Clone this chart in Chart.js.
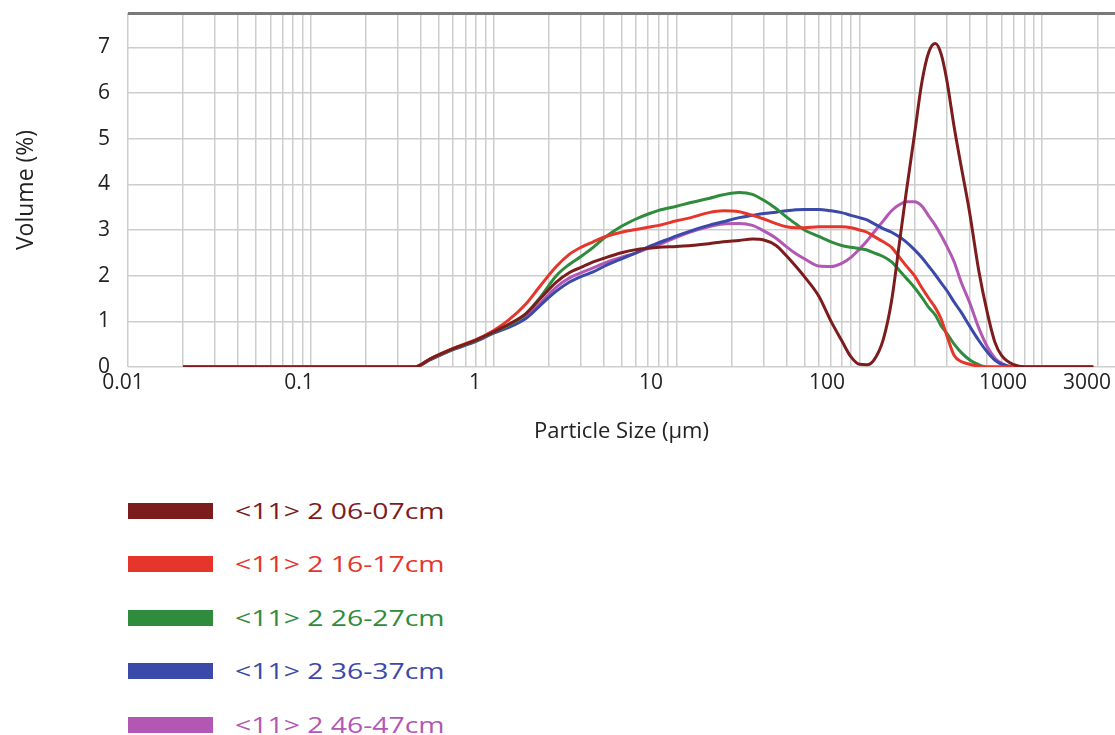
<!DOCTYPE html>
<html>
<head>
<meta charset="utf-8">
<script src="https://cdn.jsdelivr.net/npm/chart.js@4.4.1/dist/chart.umd.min.js"></script>
<style>
    html, body { margin: 0; padding: 0; background: #fff; }
    body { width: 1115px; height: 735px; position: relative; overflow: hidden; font-family: 'Open Sans', sans-serif; }
    #wrap { position: absolute; left: 0; top: 0; width: 1115px; height: 450px; }
    #legend { position: absolute; left: 128px; top: 484px; margin: 0; padding: 0; list-style: none; }
    #legend li { display: flex; align-items: center; height: 53.5px; }
    #legend .box { width: 85px; height: 16px; margin-right: 22px; }
    #legend .txt { display: inline-block; font-size: 21px; transform: scaleX(1.35); transform-origin: left center; }
</style>
</head>
<body>
<div id="wrap"><canvas id="psd"></canvas></div>
<ul id="legend"></ul>
<script>
// particle size classes (µm)
const sizes = [0.02, 0.1, 0.3, 0.37, 0.45, 0.6, 0.8, 1, 1.2, 1.5, 1.8, 2.2, 2.6, 3, 3.5, 4, 5, 6, 7, 8,
    10, 12, 15, 18, 22, 26, 30, 35, 40, 45, 50, 60, 70, 80, 90, 100, 110, 120, 135, 150,
    165, 180, 200, 220, 240, 260, 280, 300, 330, 360, 400, 450, 500, 550, 600, 700, 800, 900, 1000, 1500, 1900];

// volume (%) per sample depth
const vol0607 = [0, 0, 0, 0, 0.18, 0.4, 0.59, 0.77, 0.93, 1.17, 1.5, 1.86, 2.07, 2.18, 2.3, 2.38, 2.5, 2.57, 2.6, 2.62,
    2.64, 2.66, 2.7, 2.74, 2.77, 2.8, 2.78, 2.66, 2.43, 2.2, 1.98, 1.55, 1.0, 0.58, 0.22, 0.06, 0.05, 0.15, 0.6, 1.45,
    2.67, 3.8, 5.08, 6.25, 6.9, 7.08, 6.85, 6.3, 5.25, 4.4, 3.4, 2.1, 1.2, 0.55, 0.25, 0.05, 0, 0, 0, 0, 0];
const vol1617 = [0, 0, 0, 0, 0.18, 0.41, 0.6, 0.8, 1.02, 1.38, 1.78, 2.2, 2.47, 2.62, 2.74, 2.84, 2.95, 3.01, 3.06, 3.1,
    3.2, 3.27, 3.38, 3.42, 3.4, 3.32, 3.24, 3.14, 3.07, 3.05, 3.05, 3.07, 3.07, 3.07, 3.05, 3.0, 2.95, 2.86, 2.74, 2.62,
    2.41, 2.22, 2.0, 1.73, 1.5, 1.3, 1.05, 0.7, 0.25, 0.12, 0.06, 0.02, 0, 0, 0, 0, 0, 0, 0, 0, 0];
const vol2627 = [0, 0, 0, 0, 0.17, 0.39, 0.58, 0.76, 0.91, 1.16, 1.53, 2.0, 2.25, 2.42, 2.62, 2.82, 3.08, 3.24, 3.35, 3.43,
    3.52, 3.6, 3.69, 3.77, 3.82, 3.78, 3.65, 3.47, 3.28, 3.13, 3.0, 2.86, 2.74, 2.66, 2.62, 2.59, 2.56, 2.5, 2.42, 2.3,
    2.12, 1.95, 1.74, 1.52, 1.3, 1.14, 0.9, 0.74, 0.5, 0.32, 0.16, 0.05, 0, 0, 0, 0, 0, 0, 0, 0, 0];
const vol3637 = [0, 0, 0, 0, 0.16, 0.38, 0.56, 0.74, 0.86, 1.06, 1.35, 1.66, 1.86, 1.98, 2.08, 2.2, 2.37, 2.5, 2.63, 2.72,
    2.87, 2.98, 3.1, 3.18, 3.27, 3.32, 3.36, 3.39, 3.42, 3.44, 3.45, 3.45, 3.42, 3.38, 3.32, 3.27, 3.22, 3.14, 3.03, 2.95,
    2.85, 2.74, 2.57, 2.39, 2.2, 2.02, 1.84, 1.68, 1.42, 1.2, 0.9, 0.58, 0.33, 0.15, 0.06, 0, 0, 0, 0, 0, 0];
const vol4647 = [0, 0, 0, 0, 0.16, 0.39, 0.57, 0.75, 0.88, 1.1, 1.4, 1.75, 1.95, 2.06, 2.17, 2.27, 2.4, 2.5, 2.6, 2.68,
    2.84, 2.96, 3.07, 3.13, 3.14, 3.1, 2.98, 2.82, 2.63, 2.48, 2.37, 2.21, 2.2, 2.27, 2.4, 2.58, 2.76, 2.95, 3.2, 3.42,
    3.55, 3.62, 3.62, 3.52, 3.3, 3.1, 2.88, 2.65, 2.3, 1.86, 1.42, 0.85, 0.45, 0.2, 0.08, 0, 0, 0, 0, 0, 0];

const seriesLabels = ['<11> 2 06-07cm', '<11> 2 16-17cm', '<11> 2 26-27cm', '<11> 2 36-37cm', '<11> 2 46-47cm'];
const seriesColors = ['#7c1c1c', '#e6352b', '#2f8c3c', '#3b4aa8', '#b257b4'];

const xTickLabels = [0.01, 0.1, 1, 10, 100, 1000, 3000];
const yTickValues = [0, 1, 2, 3, 4, 5, 6, 7];
const Y_MAX = 7.75;

// minor log grid: 1..9 x 10^n
const gridValues = [];
[0.01, 0.1, 1, 10, 100, 1000].forEach(dec => {
    for (let m = 1; m <= 9; m++) {
        const v = +(dec * m).toPrecision(3);
        if (v <= 2000) gridValues.push(v);
    }
});

const allSeries = [vol0607, vol1617, vol2627, vol3637, vol4647];

const htmlLegend = {
    id: 'htmlLegend',
    afterUpdate(chart) {
        const ul = document.getElementById('legend');
        ul.innerHTML = '';
        chart.data.datasets.forEach(ds => {
            const li = document.createElement('li');
            li.innerHTML = `<span class="box" style="background:${ds.borderColor}"></span>` +
                `<span class="txt" style="color:${ds.borderColor}"></span>`;
            li.querySelector('.txt').textContent = ds.label;
            ul.appendChild(li);
        });
    }
};

const tickFont = { family: "'Open Sans', sans-serif", size: 21 };

function noPadding(scale) {
    scale.paddingTop = 0;
    scale.paddingBottom = 0;
    scale.paddingLeft = 0;
    scale.paddingRight = 0;
}

new Chart(document.getElementById('psd'), {
    type: 'line',
    data: {
        datasets: allSeries.map((vals, i) => ({
            label: seriesLabels[i],
            data: sizes.map((s, j) => ({ x: s, y: vals[j] })),
            borderColor: seriesColors[i],
            backgroundColor: seriesColors[i],
            borderWidth: 3,
            pointRadius: 0,
            cubicInterpolationMode: 'monotone',
            fill: false,
            xAxisID: 'x'
        }))
    },
    options: {
        responsive: true,
        maintainAspectRatio: false,
        animation: false,
        layout: { padding: { top: 13, left: 0, right: 0, bottom: 0 } },
        plugins: {
            legend: { display: false },
            tooltip: { enabled: false }
        },
        scales: {
            x: {
                type: 'logarithmic',
                position: 'bottom',
                min: 0.01,
                max: 2500,
                afterBuildTicks: scale => { scale.ticks = gridValues.map(v => ({ value: v })); },
                afterFit: scale => { scale.height = 0; noPadding(scale); },
                ticks: { display: false, autoSkip: false },
                grid: { color: '#cdcdcd', lineWidth: 1.5, drawTicks: false },
                border: { display: false }
            },
            x2: {
                type: 'logarithmic',
                position: 'bottom',
                min: 0.01,
                max: 4055,
                afterBuildTicks: scale => { scale.ticks = xTickLabels.map(v => ({ value: v })); },
                afterFit: scale => { scale.height = 83; noPadding(scale); },
                ticks: {
                    autoSkip: false,
                    maxRotation: 0,
                    padding: 3,
                    labelOffset: -5,
                    color: '#222',
                    font: tickFont,
                    callback: v => String(v)
                },
                grid: { display: false, drawTicks: false },
                border: { display: false },
                title: {
                    display: true,
                    text: 'Particle Size (µm)',
                    color: '#222',
                    font: { family: "'Open Sans', sans-serif", size: 22 },
                    padding: { top: 0, bottom: 5 }
                }
            },
            y: {
                min: 0,
                max: Y_MAX,
                afterBuildTicks: scale => { scale.ticks = yTickValues.concat([Y_MAX]).map(v => ({ value: v })); },
                afterFit: scale => { scale.width = 128; noPadding(scale); },
                ticks: {
                    padding: 18,
                    color: '#222',
                    font: tickFont,
                    callback: v => (v === Y_MAX ? '' : String(v))
                },
                grid: {
                    drawTicks: false,
                    color: ctx => (ctx.tick && ctx.tick.value === Y_MAX ? '#7a7a7a' : '#cdcdcd'),
                    lineWidth: ctx => (ctx.tick && ctx.tick.value === Y_MAX ? 3 : 1.5)
                },
                border: { display: false },
                title: {
                    display: true,
                    text: 'Volume (%)',
                    color: '#222',
                    font: { family: "'Open Sans', sans-serif", size: 23 },
                    padding: { top: 13, bottom: 0 }
                }
            }
        }
    },
    plugins: [htmlLegend]
});
</script>
</body>
</html>
